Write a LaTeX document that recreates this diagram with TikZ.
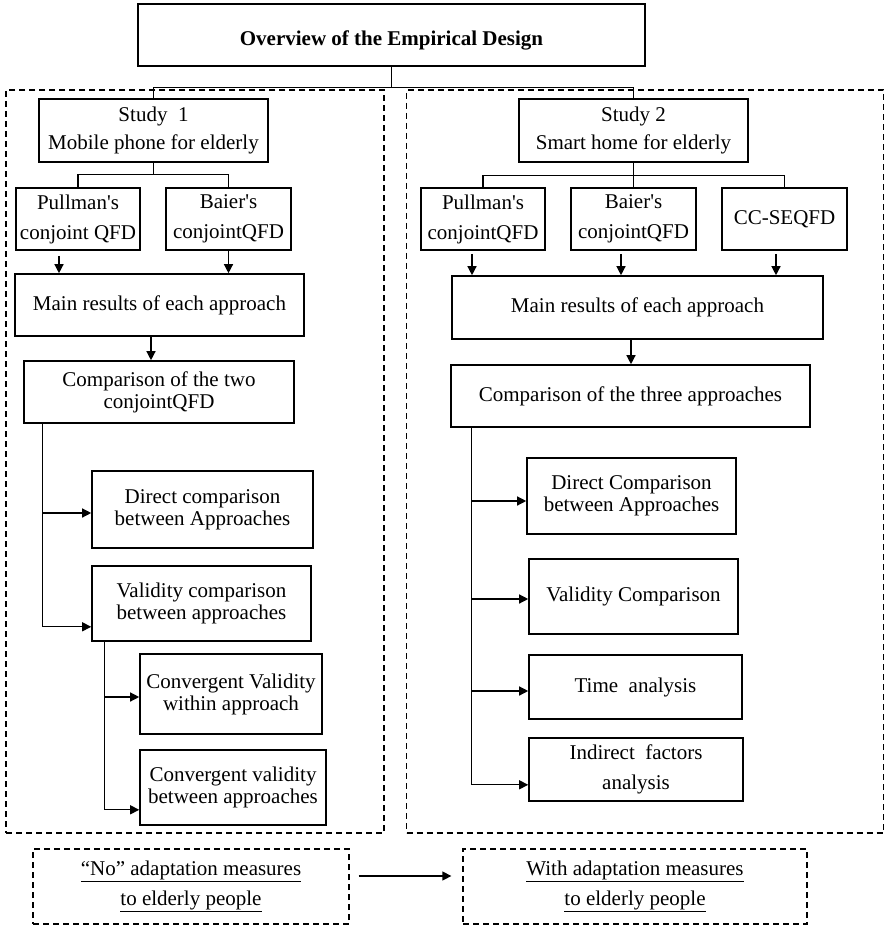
\documentclass[tikz,border=0pt]{standalone}
\usepackage{fontspec}
\setmainfont{Liberation Serif}[Ligatures=TeXOff]
\usetikzlibrary{arrows.meta,calc}
\begin{document}
\begin{tikzpicture}[x=1pt,y=-1pt,
  box/.style={draw, line width=1.6pt, inner sep=0pt, align=center,
    font=\fontsize{21}{22}\selectfont},
  wide/.style={font=\fontsize{21}{30}\selectfont},
  mid/.style={font=\fontsize{21}{28}\selectfont},
  frame/.style={draw, line width=1.3pt, dash pattern=on 6pt off 4pt,
    inner sep=0pt, align=center},
  link/.style={line width=1.3pt},
  arr/.style={line width=1.3pt, -{Triangle[length=9pt,width=9pt]}},
]
\useasboundingbox (0,0) rectangle (885,925);

% dashed frames of the two studies
\node[frame, minimum width=378pt, minimum height=743pt] (lframe) at (195,461.5) {};
\node[frame, minimum width=477pt, minimum height=743pt] (rframe) at (645,461.5) {};

% title
\node[box, minimum width=507pt, minimum height=62pt] (top) at (391.5,35) {};
\node[font=\bfseries\fontsize{21}{22}\selectfont] (title) at ($(top.center)+(0,5)$) {Overview of the Empirical Design};

% study 1
\node[box, mid, minimum width=229pt, minimum height=63pt] (s1) at (153.5,130.5) {Study\ \ 1\\Mobile phone for elderly};
\node[box, wide, minimum width=124pt, minimum height=62pt] (lp) at (78,219) {Pullman's\\conjoint QFD};
\node[box, wide, minimum width=125pt, minimum height=62pt] (lb) at (228.5,219) {Baier's\\conjointQFD};
\node[box, minimum width=289pt, minimum height=62pt] (lmain) at (159.5,305) {Main results of each approach};
\node[box, minimum width=270pt, minimum height=62pt] (lcomp) at (159,392) {Comparison of the two\\conjointQFD};
\node[box, minimum width=221pt, minimum height=77pt] (ldir) at (202.5,509.5) {Direct comparison\\between Approaches};
\node[box, minimum width=219pt, minimum height=75pt] (lval) at (201.5,603.5) {Validity comparison\\between approaches};
\node[box, minimum width=182pt, minimum height=80pt] (lwith) at (231,694) {Convergent Validity\\within approach};
\node[box, minimum width=186pt, minimum height=75pt] (lbetw) at (233,787.5) {Convergent validity\\between approaches};

% study 2
\node[box, mid, minimum width=229pt, minimum height=63pt] (s2) at (633.5,130.5) {Study 2\\Smart home for elderly};
\node[box, wide, minimum width=124pt, minimum height=62pt] (rp) at (483,219) {Pullman's\\conjointQFD};
\node[box, wide, minimum width=125pt, minimum height=62pt] (rb) at (633.5,219) {Baier's\\conjointQFD};
\node[box, minimum width=125pt, minimum height=62pt] (rc) at (784.5,219) {CC-SEQFD};
\node[box, minimum width=371pt, minimum height=63pt] (rmain) at (637.5,307.5) {Main results of each approach};
\node[box, minimum width=359pt, minimum height=62pt] (rcomp) at (630.5,396) {Comparison of the three approaches};
\node[box, minimum width=209pt, minimum height=76pt] (rdir) at (631.5,496) {Direct Comparison\\between Approaches};
\node[box, minimum width=209pt, minimum height=75pt] (rval) at (633.5,596.5) {Validity Comparison};
\node[box, minimum width=213pt, minimum height=64pt] (rtime) at (635.5,687) {Time\ \ analysis};
\node[box, wide, minimum width=214pt, minimum height=63pt] (rind) at (636,769.5) {Indirect\ \ factors\\analysis};

% adaptation measures
\node[frame, wide, minimum width=316pt, minimum height=75pt] (lbot) at (191,886.5) {\underline{“No” adaptation measures}\\\underline{to elderly people}};
\node[frame, wide, minimum width=344pt, minimum height=75pt] (rbot) at (635,886.5) {\underline{With adaptation measures}\\\underline{to elderly people}};

% tree from the title to the studies
\draw[link] (top.south) -- ++(0,21) -| (s1.north);
\draw[link] (top.south) -- ++(0,21) -| (s2.north);

% study 1 branches
\draw[link] (s1.south) -- ++(0,12) -| (lp.north);
\draw[link] (s1.south) -- ++(0,12) -| (lb.north);
\coordinate (la1) at ($(lp.south)+(-19,5)$);
\draw[arr] (la1) -- (la1 |- lmain.north);
\draw[arr] (lb.south) -- (lb.south |- lmain.north);
\coordinate (la2) at ($(lmain.south)+(-8.5,0)$);
\draw[arr] (la2) -- (la2 |- lcomp.north);
\coordinate (lv) at ($(lcomp.south west)+(19,0)$);
\coordinate (ldirin) at ($(ldir.west)+(0,3.5)$);
\coordinate (lvalin) at ($(lval.south west)+(0,-15)$);
\draw[link] (lv) -- (lv |- lvalin);
\draw[arr] (lv |- ldirin) -- (ldirin);
\draw[arr] (lv |- lvalin) -- (lvalin);
\coordinate (lv2) at ($(lval.south west)+(13,0)$);
\coordinate (lwithin) at ($(lwith.west)+(0,3)$);
\coordinate (lbetwin) at ($(lbetw.south west)+(0,-16)$);
\draw[link] (lv2) -- (lv2 |- lbetwin);
\draw[arr] (lv2 |- lwithin) -- (lwithin);
\draw[arr] (lv2 |- lbetwin) -- (lbetwin);

% study 2 branches
\draw[link] (s2.south) -- ++(0,13) -| (rp.north);
\draw[link] (s2.south) -- ++(0,13) -| (rc.north);
\draw[link] (s2.south) -- (rb.north);
\coordinate (ra1) at ($(rp.south)+(-11,3)$);
\coordinate (ra2) at ($(rb.south)+(-12.5,3)$);
\coordinate (ra3) at ($(rc.south)+(-8.5,3)$);
\draw[arr] (ra1) -- (ra1 |- rmain.north);
\draw[arr] (ra2) -- (ra2 |- rmain.north);
\draw[arr] (ra3) -- (ra3 |- rmain.north);
\coordinate (ra4) at ($(rmain.south)+(-6.5,0)$);
\draw[arr] (ra4) -- (ra4 |- rcomp.north);
\coordinate (rv) at ($(rcomp.south west)+(21,0)$);
\coordinate (rdirin) at ($(rdir.west)+(0,5)$);
\coordinate (rvalin) at ($(rval.west)+(0,2.5)$);
\coordinate (rtimein) at ($(rtime.west)+(0,4)$);
\coordinate (rindin) at ($(rind.south west)+(0,-17)$);
\draw[link] (rv) -- (rv |- rindin);
\draw[arr] (rv |- rdirin) -- (rdirin);
\draw[arr] (rv |- rvalin) -- (rvalin);
\draw[arr] (rv |- rtimein) -- (rtimein);
\draw[arr] (rv |- rindin) -- (rindin);

% from no adaptation to adaptation
\coordinate (b1) at ($(lbot.east)+(9,-10.5)$);
\coordinate (b2) at ($(rbot.west)+(-11,-10.5)$);
\draw[arr] (b1) -- (b2);
\end{tikzpicture}
\end{document}
